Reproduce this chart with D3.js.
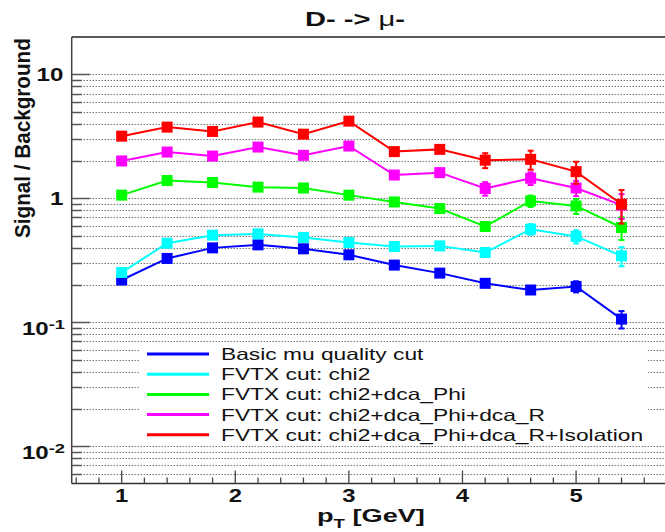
<!DOCTYPE html>
<html>
<head>
<meta charset="utf-8">
<script src="https://cdn.jsdelivr.net/npm/d3@7"></script>
<style>
  html, body { margin: 0; padding: 0; background: #fff; }
  svg { display: block; }
  text { font-family: "Liberation Sans", Arial, Helvetica, sans-serif; }
</style>
</head>
<body>
<div id="chart"></div>
<script>
// ---- data -------------------------------------------------------------
const ptBins = [1.0, 1.4, 1.8, 2.2, 2.6, 3.0, 3.4, 3.8, 4.2, 4.6, 5.0, 5.4];

const basicMu      = [0.219, 0.327, 0.398, 0.421, 0.391, 0.350, 0.289, 0.249, 0.206, 0.182, 0.194, 0.106];
const basicMuErr   = [0.006, 0.008, 0.009, 0.010, 0.010, 0.010, 0.009, 0.009, 0.009, 0.012, 0.020, 0.017];
const chi2         = [0.252, 0.434, 0.504, 0.516, 0.483, 0.440, 0.408, 0.413, 0.365, 0.563, 0.492, 0.343];
const chi2Err      = [0.008, 0.012, 0.014, 0.015, 0.016, 0.017, 0.018, 0.020, 0.022, 0.055, 0.060, 0.060];
const chi2Phi      = [1.06, 1.39, 1.34, 1.23, 1.21, 1.06, 0.934, 0.826, 0.592, 0.951, 0.867, 0.581];
const chi2PhiErr   = [0.03, 0.04, 0.04, 0.04, 0.04, 0.04, 0.04, 0.04, 0.04, 0.10, 0.12, 0.12];
const chi2PhiR     = [2.00, 2.36, 2.19, 2.59, 2.22, 2.64, 1.54, 1.61, 1.20, 1.45, 1.21, 0.88];
const chi2PhiRErr  = [0.06, 0.07, 0.07, 0.08, 0.08, 0.10, 0.08, 0.09, 0.15, 0.17, 0.17, 0.20];
const isolation    = [3.17, 3.75, 3.46, 4.12, 3.29, 4.19, 2.38, 2.48, 2.03, 2.06, 1.64, 0.895];
const isolationErr = [0.10, 0.12, 0.12, 0.14, 0.13, 0.17, 0.14, 0.15, 0.28, 0.36, 0.33, 0.27];

const seriesNames  = [
  "Basic mu quality cut",
  "FVTX cut: chi2",
  "FVTX cut: chi2+dca_Phi",
  "FVTX cut: chi2+dca_Phi+dca_R",
  "FVTX cut: chi2+dca_Phi+dca_R+Isolation"
];
const seriesValues = [basicMu, chi2, chi2Phi, chi2PhiR, isolation];
const seriesErrors = [basicMuErr, chi2Err, chi2PhiErr, chi2PhiRErr, isolationErr];
const seriesColors = ["#0000ff", "#00ffff", "#00ff00", "#ff00ff", "#ff0000"];

const xRange = [0.56, 5.84];
const yRange = [0.005, 20];
const xMajorTicks = [1, 2, 3, 4, 5];
const yMajorTicks = [0.01, 0.1, 1, 10];
const yTickLabels = [["10", "-2"], ["10", "-1"], ["1", null], ["10", null]];

// ---- layout -----------------------------------------------------------
const W = 665, H = 532;
const frameLeft = 71.7, frameTop = 37, frameBottom = 483.5;
const unitPx = 113.6;

const svg = d3.select("#chart").append("svg")
  .attr("width", W).attr("height", H);

const x = d3.scaleLinear().domain(xRange)
  .range([frameLeft, frameLeft + (xRange[1] - xRange[0]) * unitPx]);
const y = d3.scaleLog().domain(yRange).range([frameBottom, frameTop]);

const px = v => Math.round(v) + 0.5;

// horizontal stretch helper: scale a text node so its box spans `target` px
function stretch(node, target) {
  const w = node.getBBox().width;
  return w > 0 ? target / w : 1;
}

// ---- grid (dotted, every major + minor y tick) ------------------------
const gridVals = y.ticks().filter(v => v > yRange[0] * 1.0001 && v < yRange[1] * 0.9999);
svg.append("g").selectAll("line").data(gridVals).join("line")
  .attr("x1", frameLeft).attr("x2", x.range()[1])
  .attr("y1", d => px(y(d))).attr("y2", d => px(y(d)))
  .attr("stroke", "#333").attr("stroke-width", 1)
  .attr("stroke-dasharray", "1,2");

// ---- frame & axes -----------------------------------------------------
const axes = svg.append("g");
axes.append("line")  // top
  .attr("x1", frameLeft).attr("x2", x.range()[1])
  .attr("y1", frameTop).attr("y2", frameTop)
  .attr("stroke", "#222").attr("stroke-width", 1.3);
axes.append("line")  // left
  .attr("x1", frameLeft).attr("x2", frameLeft)
  .attr("y1", frameTop).attr("y2", frameBottom)
  .attr("stroke", "#444").attr("stroke-width", 1.5);
axes.append("line")  // bottom
  .attr("x1", frameLeft).attr("x2", x.range()[1])
  .attr("y1", frameBottom).attr("y2", frameBottom)
  .attr("stroke", "#333").attr("stroke-width", 1.6);

// y ticks
axes.append("g").selectAll("line").data(gridVals).join("line")
  .attr("x1", frameLeft)
  .attr("x2", d => frameLeft + (yMajorTicks.some(m => Math.abs(m - d) / m < 1e-6) ? 18 : 10))
  .attr("y1", d => px(y(d))).attr("y2", d => px(y(d)))
  .attr("stroke", "#555").attr("stroke-width", 1.5);

// x ticks
const xMinor = d3.range(0.6, xRange[1], 0.2).map(v => +v.toFixed(2));
axes.append("g").selectAll("line").data(xMinor).join("line")
  .attr("x1", d => x(d)).attr("x2", d => x(d))
  .attr("y1", frameBottom)
  .attr("y2", d => frameBottom - (xMajorTicks.some(m => Math.abs(m - d) < 1e-6) ? 13 : 6))
  .attr("stroke", "#444").attr("stroke-width", 1.3);

// ---- y tick labels ----------------------------------------------------
const yLabG = svg.append("g");
let yScaleX = 1;
{
  const probe = yLabG.append("text").attr("font-size", 17.7).attr("font-weight", "bold").text("10");
  yScaleX = stretch(probe.node(), 27);
  probe.remove();
}
yMajorTicks.forEach((v, i) => {
  const [base, sup] = yTickLabels[i];
  const g = yLabG.append("g")
    .attr("transform", `translate(${sup ? 65 : 63.3},${y(v) + (sup ? 12.5 : 6.5)}) scale(${yScaleX},1)`);
  const t = g.append("text").attr("text-anchor", "end")
    .attr("font-size", 17.7).attr("font-weight", "bold").attr("fill", "#111");
  t.append("tspan").text(base);
  if (sup) t.append("tspan").attr("dy", -5.5).attr("font-size", 13.5).text(sup);
});

// ---- x tick labels ----------------------------------------------------
svg.append("g").selectAll("g").data(xMajorTicks).join("g")
  .attr("transform", d => `translate(${x(d)},502) scale(${yScaleX},1)`)
  .append("text").attr("text-anchor", "middle")
  .attr("font-size", 17.5).attr("font-weight", "bold").attr("fill", "#111")
  .text(d => d);

// ---- axis titles ------------------------------------------------------
{
  const g = svg.append("g");
  const t = g.append("text").attr("font-size", 17.5).attr("font-weight", "bold").attr("fill", "#111");
  t.append("tspan").text("p");
  t.append("tspan").attr("font-size", 12).attr("dy", 5.5).text("T");
  t.append("tspan").attr("dy", -5.5).text(" [GeV]");
  const s = stretch(t.node(), 108);
  g.attr("transform", `translate(317,522) scale(${s},1)`);
}
{
  const g = svg.append("g");
  const t = g.append("text").attr("font-size", 21.5).attr("font-weight", "bold").attr("fill", "#111")
    .text("Signal / Background");
  const s = stretch(t.node(), 200);
  g.attr("transform", `translate(29.5,238) rotate(-90) scale(${s},1)`);
}

// ---- title ------------------------------------------------------------
{
  const g = svg.append("g");
  const t = g.append("text").attr("font-size", 19.5).attr("font-weight", "bold").attr("fill", "#111");
  t.append("tspan").text("D- -> ");
  t.append("tspan").attr("font-weight", "normal").text("μ");
  t.append("tspan").text("-");
  const s = stretch(t.node(), 100);
  g.attr("transform", `translate(305,25.5) scale(${s},1)`);
}

// ---- series -----------------------------------------------------------
const line = d3.line().x(d => x(d.pt)).y(d => y(d.v));
const plot = svg.append("g");
seriesValues.forEach((vals, si) => {
  const color = seriesColors[si];
  const pts = ptBins.map((pt, i) => ({ pt, v: vals[i], e: seriesErrors[si][i] }));
  const g = plot.append("g");
  g.append("path").datum(pts).attr("d", line)
    .attr("fill", "none").attr("stroke", color).attr("stroke-width", 2);
  // error bars with end caps
  const eb = g.append("g").attr("stroke", color).attr("stroke-width", 2);
  pts.forEach(p => {
    const xx = x(p.pt), y0 = y(p.v + p.e), y1 = y(p.v - p.e);
    eb.append("line").attr("x1", xx).attr("x2", xx).attr("y1", y0).attr("y2", y1);
    eb.append("line").attr("x1", xx - 3).attr("x2", xx + 3).attr("y1", y0).attr("y2", y0);
    eb.append("line").attr("x1", xx - 3).attr("x2", xx + 3).attr("y1", y1).attr("y2", y1);
  });
  g.selectAll("rect").data(pts).join("rect")
    .attr("x", d => x(d.pt) - 5.5).attr("y", d => y(d.v) - 5.5)
    .attr("width", 11).attr("height", 11).attr("fill", color);
});

// ---- legend -----------------------------------------------------------
const leg = svg.append("g");
leg.append("rect").attr("x", 140).attr("y", 345).attr("width", 508).attr("height", 99).attr("fill", "#fff");
let legScale = 1;
{
  const probe = leg.append("text").attr("font-size", 16.3).text(seriesNames[4]);
  legScale = stretch(probe.node(), 421.7);
  probe.remove();
}
seriesNames.forEach((name, i) => {
  const base = 360 + i * 20.2;
  leg.append("line").attr("x1", 147).attr("x2", 209)
    .attr("y1", base - 6).attr("y2", base - 6)
    .attr("stroke", seriesColors[i]).attr("stroke-width", 3);
  leg.append("g").attr("transform", `translate(221,${base}) scale(${legScale},1)`)
    .append("text").attr("font-size", 16.3).attr("fill", "#111").text(name);
});
</script>
</body>
</html>
